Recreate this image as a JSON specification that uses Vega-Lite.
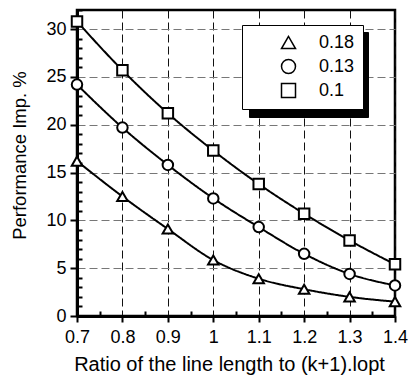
{
  "$schema": "https://vega.github.io/schema/vega-lite/v6.json",
  "width": 318,
  "height": 306,
  "autosize": {"type": "none"},
  "padding": {"left": 77, "top": 10, "right": 14, "bottom": 65},
  "background": "white",
  "config": {
    "font": "Liberation Sans",
    "view": {"stroke": "black", "strokeWidth": 2.5}
  },
  "data": {
    "values": [
      {"x": 0.7, "y": 16.2, "s": "0.18"},
      {"x": 0.8, "y": 12.5, "s": "0.18"},
      {"x": 0.9, "y": 9.1, "s": "0.18"},
      {"x": 1.0, "y": 5.85, "s": "0.18"},
      {"x": 1.1, "y": 3.9, "s": "0.18"},
      {"x": 1.2, "y": 2.8, "s": "0.18"},
      {"x": 1.3, "y": 2.0, "s": "0.18"},
      {"x": 1.4, "y": 1.5, "s": "0.18"},
      {"x": 0.7, "y": 24.2, "s": "0.13"},
      {"x": 0.8, "y": 19.7, "s": "0.13"},
      {"x": 0.9, "y": 15.8, "s": "0.13"},
      {"x": 1.0, "y": 12.3, "s": "0.13"},
      {"x": 1.1, "y": 9.3, "s": "0.13"},
      {"x": 1.2, "y": 6.5, "s": "0.13"},
      {"x": 1.3, "y": 4.4, "s": "0.13"},
      {"x": 1.4, "y": 3.2, "s": "0.13"},
      {"x": 0.7, "y": 30.8, "s": "0.1"},
      {"x": 0.8, "y": 25.7, "s": "0.1"},
      {"x": 0.9, "y": 21.2, "s": "0.1"},
      {"x": 1.0, "y": 17.3, "s": "0.1"},
      {"x": 1.1, "y": 13.8, "s": "0.1"},
      {"x": 1.2, "y": 10.7, "s": "0.1"},
      {"x": 1.3, "y": 7.9, "s": "0.1"},
      {"x": 1.4, "y": 5.4, "s": "0.1"}
    ]
  },
  "encoding": {
    "x": {
      "field": "x",
      "type": "quantitative",
      "scale": {"domain": [0.7, 1.4], "nice": false, "zero": false},
      "axis": {
        "title": "Ratio of the line length to (k+1).lopt",
        "titleFontSize": 20,
        "titleFontWeight": "normal",
        "titleColor": "black",
        "titlePadding": 8,
        "titleX": 152,
        "values": [0.7, 0.75, 0.8, 0.85, 0.9, 0.95, 1.0, 1.05, 1.1, 1.15, 1.2, 1.25, 1.3, 1.35, 1.4],
        "labelExpr": "round(datum.value*100) % 10 === 0 ? format(datum.value, '') : ''",
        "labelFontSize": 18,
        "labelColor": "black",
        "labelPadding": 6,
        "labelFlush": false,
        "labelOverlap": false,
        "domainColor": "black",
        "domainWidth": 3,
        "tickColor": "black",
        "tickWidth": 2,
        "tickSize": {"condition": {"test": "round(datum.value*100) % 10 === 0", "value": 6}, "value": -5},
        "grid": true,
        "gridColor": "#111111",
        "gridDash": [8, 4],
        "gridWidth": 1,
        "gridOpacity": {"condition": {"test": "round(datum.value*100) % 10 === 0", "value": 1}, "value": 0}
      }
    },
    "y": {
      "field": "y",
      "type": "quantitative",
      "scale": {"domain": [0, 32], "nice": false},
      "axis": {
        "title": "Performance Imp. %",
        "titleFontSize": 18.5,
        "titleFontWeight": "normal",
        "titleColor": "black",
        "titlePadding": 16,
        "titleY": 145,
        "values": [0,1,2,3,4,5,6,7,8,9,10,11,12,13,14,15,16,17,18,19,20,21,22,23,24,25,26,27,28,29,30,31,32],
        "labelExpr": "datum.value % 5 === 0 ? datum.label : ''",
        "labelFontSize": 18,
        "labelColor": "black",
        "labelPadding": 4,
        "labelFlush": false,
        "labelOverlap": false,
        "domainColor": "black",
        "domainWidth": 3,
        "tickColor": "black",
        "tickWidth": 2,
        "tickSize": {"condition": {"test": "datum.value % 5 === 0", "value": 7}, "value": -5},
        "grid": true,
        "gridColor": "#777777",
        "gridDash": [8, 4],
        "gridWidth": 1,
        "gridOpacity": {"condition": {"test": "datum.value % 5 === 0", "value": 1}, "value": 0}
      }
    }
  },
  "layer": [
    {
      "mark": {"type": "line", "interpolate": "monotone", "stroke": "black", "strokeWidth": 2},
      "encoding": {
        "strokeDash": {
          "field": "s",
          "type": "nominal",
          "scale": {"range": [[1, 0], [1, 0], [1, 0]]},
          "legend": {
            "title": null,
            "orient": "none",
            "legendX": 172,
            "legendY": 22,
            "padding": 8.5,
            "fillColor": "black",
            "strokeColor": "black",
            "symbolSize": 400,
            "symbolOffset": 0,
            "labelFontSize": 18,
            "labelColor": "black",
            "labelOffset": 79.5,
            "rowPadding": 4,
            "labelExpr": "''"
          }
        }
      }
    },
    {
      "mark": {"type": "point", "filled": true, "fill": "white", "stroke": "black", "strokeWidth": 2, "size": 110, "opacity": 1},
      "encoding": {
        "shape": {
          "field": "s",
          "type": "nominal",
          "scale": {"domain": ["0.18", "0.13", "0.1"], "range": ["triangle-up", "circle", "square"]},
          "legend": {
            "title": null,
            "orient": "none",
            "legendX": 165,
            "legendY": 15,
            "padding": 8.5,
            "fillColor": "white",
            "strokeColor": "black",
            "symbolSize": 196,
            "symbolOffset": 29,
            "labelFontSize": 18,
            "labelColor": "black",
            "labelOffset": 21.5,
            "rowPadding": 4,
            "encode": {
              "legend": {"update": {"strokeWidth": {"value": 2}}},
              "symbols": {
                "update": {
                  "shape": {"signal": "datum.value === '0.18' ? 'M-3.8,0.1L-0.5,0.1M0.5,0.1L3.8,0.1M0,-0.8L0.85,0.65L-0.85,0.65Z' : datum.value === '0.13' ? 'M-3.8,0L-0.85,0M0.85,0L3.8,0M0.85,0A0.85,0.85 0 1,1 -0.85,0A0.85,0.85 0 1,1 0.85,0Z' : 'M-3.8,0L3.8,0M-0.7,-0.7L0.7,-0.7L0.7,0.7L-0.7,0.7Z'"},
                  "strokeWidth": {"value": 2}
                }
              }
            }
          }
        }
      }
    }
  ]
}
